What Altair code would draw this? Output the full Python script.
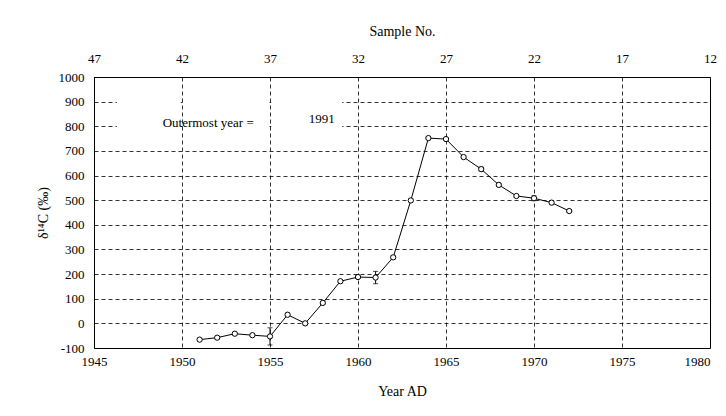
import altair as alt
import pandas as pd

years = [1951, 1952, 1953, 1954, 1955, 1956, 1957, 1958, 1959, 1960, 1961,
         1962, 1963, 1964, 1965, 1966, 1967, 1968, 1969, 1970, 1971, 1972]
d14c = [-66, -58, -42, -48, -53, 35, 0, 83, 171, 188, 186,
        268, 499, 752, 748, 675, 626, 562, 517, 508, 490, 456]
errs = [5, 5, 5, 5, 35, 6, 6, 6, 6, 6, 25,
        6, 6, 6, 6, 6, 8, 6, 6, 10, 8, 6]

year_ticks = [1945, 1950, 1955, 1960, 1965, 1970, 1975, 1980]
y_ticks = [-100, 0, 100, 200, 300, 400, 500, 600, 700, 800, 900, 1000]

ann_x = [1948.9, 1957.2]
ann_y = [815, 830]
ann_text = ["Outermost year =", "1991"]
# blank panels behind the annotation (data units), leaving the vertical grid visible
box_x = [1946.3, 1950.07, 1955.07]
box_x2 = [1949.93, 1954.93, 1959.1]
box_y = [770, 770, 770]
box_y2 = [930, 930, 930]

df = pd.DataFrame({"year": years, "d14c": d14c, "err": errs})
df["lo"] = df["d14c"] - df["err"]
df["hi"] = df["d14c"] + df["err"]
ann = pd.DataFrame({"x": ann_x, "y": ann_y, "t": ann_text})
box = pd.DataFrame({"x": box_x, "x2": box_x2, "y": box_y, "y2": box_y2})

FONT = "Liberation Serif"
YT = "δ¹⁴C (‰)"
xscale = alt.Scale(domain=[1945, 1980], nice=False, zero=False)
yscale = alt.Scale(domain=[-100, 1000], nice=False, zero=False)

xb = alt.X("year:Q", scale=xscale,
           axis=alt.Axis(values=year_ticks, title="Year AD", grid=True,
                         gridDash=[4, 3], gridColor="black", gridWidth=0.8,
                         ticks=False, domain=False, labelPadding=7,
                         labelFlush=False, labelOverlap=False,
                         labelExpr="'' + datum.value",
                         labelAlign=alt.expr("datum.value == 1980 ? 'right' : 'center'"),
                         titlePadding=16))
yb = alt.Y("d14c:Q", scale=yscale,
           axis=alt.Axis(values=y_ticks, title=YT, grid=True,
                         gridDash=[4, 3], gridColor="black", gridWidth=0.8,
                         ticks=False, domain=False, labelPadding=10,
                         labelFlush=False, labelOverlap=False,
                         labelExpr="'' + datum.value",
                         titlePadding=8))

line = alt.Chart(df).mark_line(color="black", strokeWidth=1).encode(x=xb, y=yb)
rect = alt.Chart(box).mark_rect(color="white").encode(
    x=alt.X("x:Q", scale=xscale, axis=None), x2="x2:Q",
    y=alt.Y("y:Q", scale=yscale, axis=None), y2="y2:Q")
bars = alt.Chart(df).mark_errorbar(ticks=True, color="black").encode(
    x=alt.X("year:Q", scale=xscale, axis=None),
    y=alt.Y("lo:Q", scale=yscale, axis=None),
    y2="hi:Q")
pts = alt.Chart(df).mark_point(shape="circle", filled=True, fill="white",
                               stroke="black", strokeWidth=1, size=28,
                               opacity=1).encode(
    x=alt.X("year:Q", scale=xscale, axis=None),
    y=alt.Y("d14c:Q", scale=yscale, axis=None))
txt = alt.Chart(ann).mark_text(align="left", baseline="middle", font=FONT,
                               fontSize=13, color="black").encode(
    x=alt.X("x:Q", scale=xscale, axis=None),
    y=alt.Y("y:Q", scale=yscale, axis=None), text="t:N")
top = alt.Chart(df).mark_line(opacity=0).encode(
    x=alt.X("year:Q", scale=xscale,
            axis=alt.Axis(orient="top", values=year_ticks,
                          labelExpr="'' + (1992 - datum.value)",
                          title="Sample No.",
                          grid=False, ticks=False, domain=False,
                          labelFlush=False, labelOverlap=False,
                          labelPadding=12, titlePadding=14)),
    y=alt.Y("d14c:Q", scale=yscale, axis=None))

chart = alt.layer(line, rect, bars, pts, txt, top).resolve_axis(
    x="independent", y="independent").properties(
    width=616, height=271,
    autosize=alt.AutoSizeParams(type="none"),
    padding={"left": 86, "top": 69, "right": 8, "bottom": 60},
).configure_view(stroke="black", strokeWidth=1).configure_axis(
    labelFont=FONT, titleFont=FONT, labelFontSize=13, titleFontSize=14,
    titleFontWeight="normal", labelColor="black", titleColor="black")

chart.save("out.html", embed_options={"renderer": "svg", "actions": False})
